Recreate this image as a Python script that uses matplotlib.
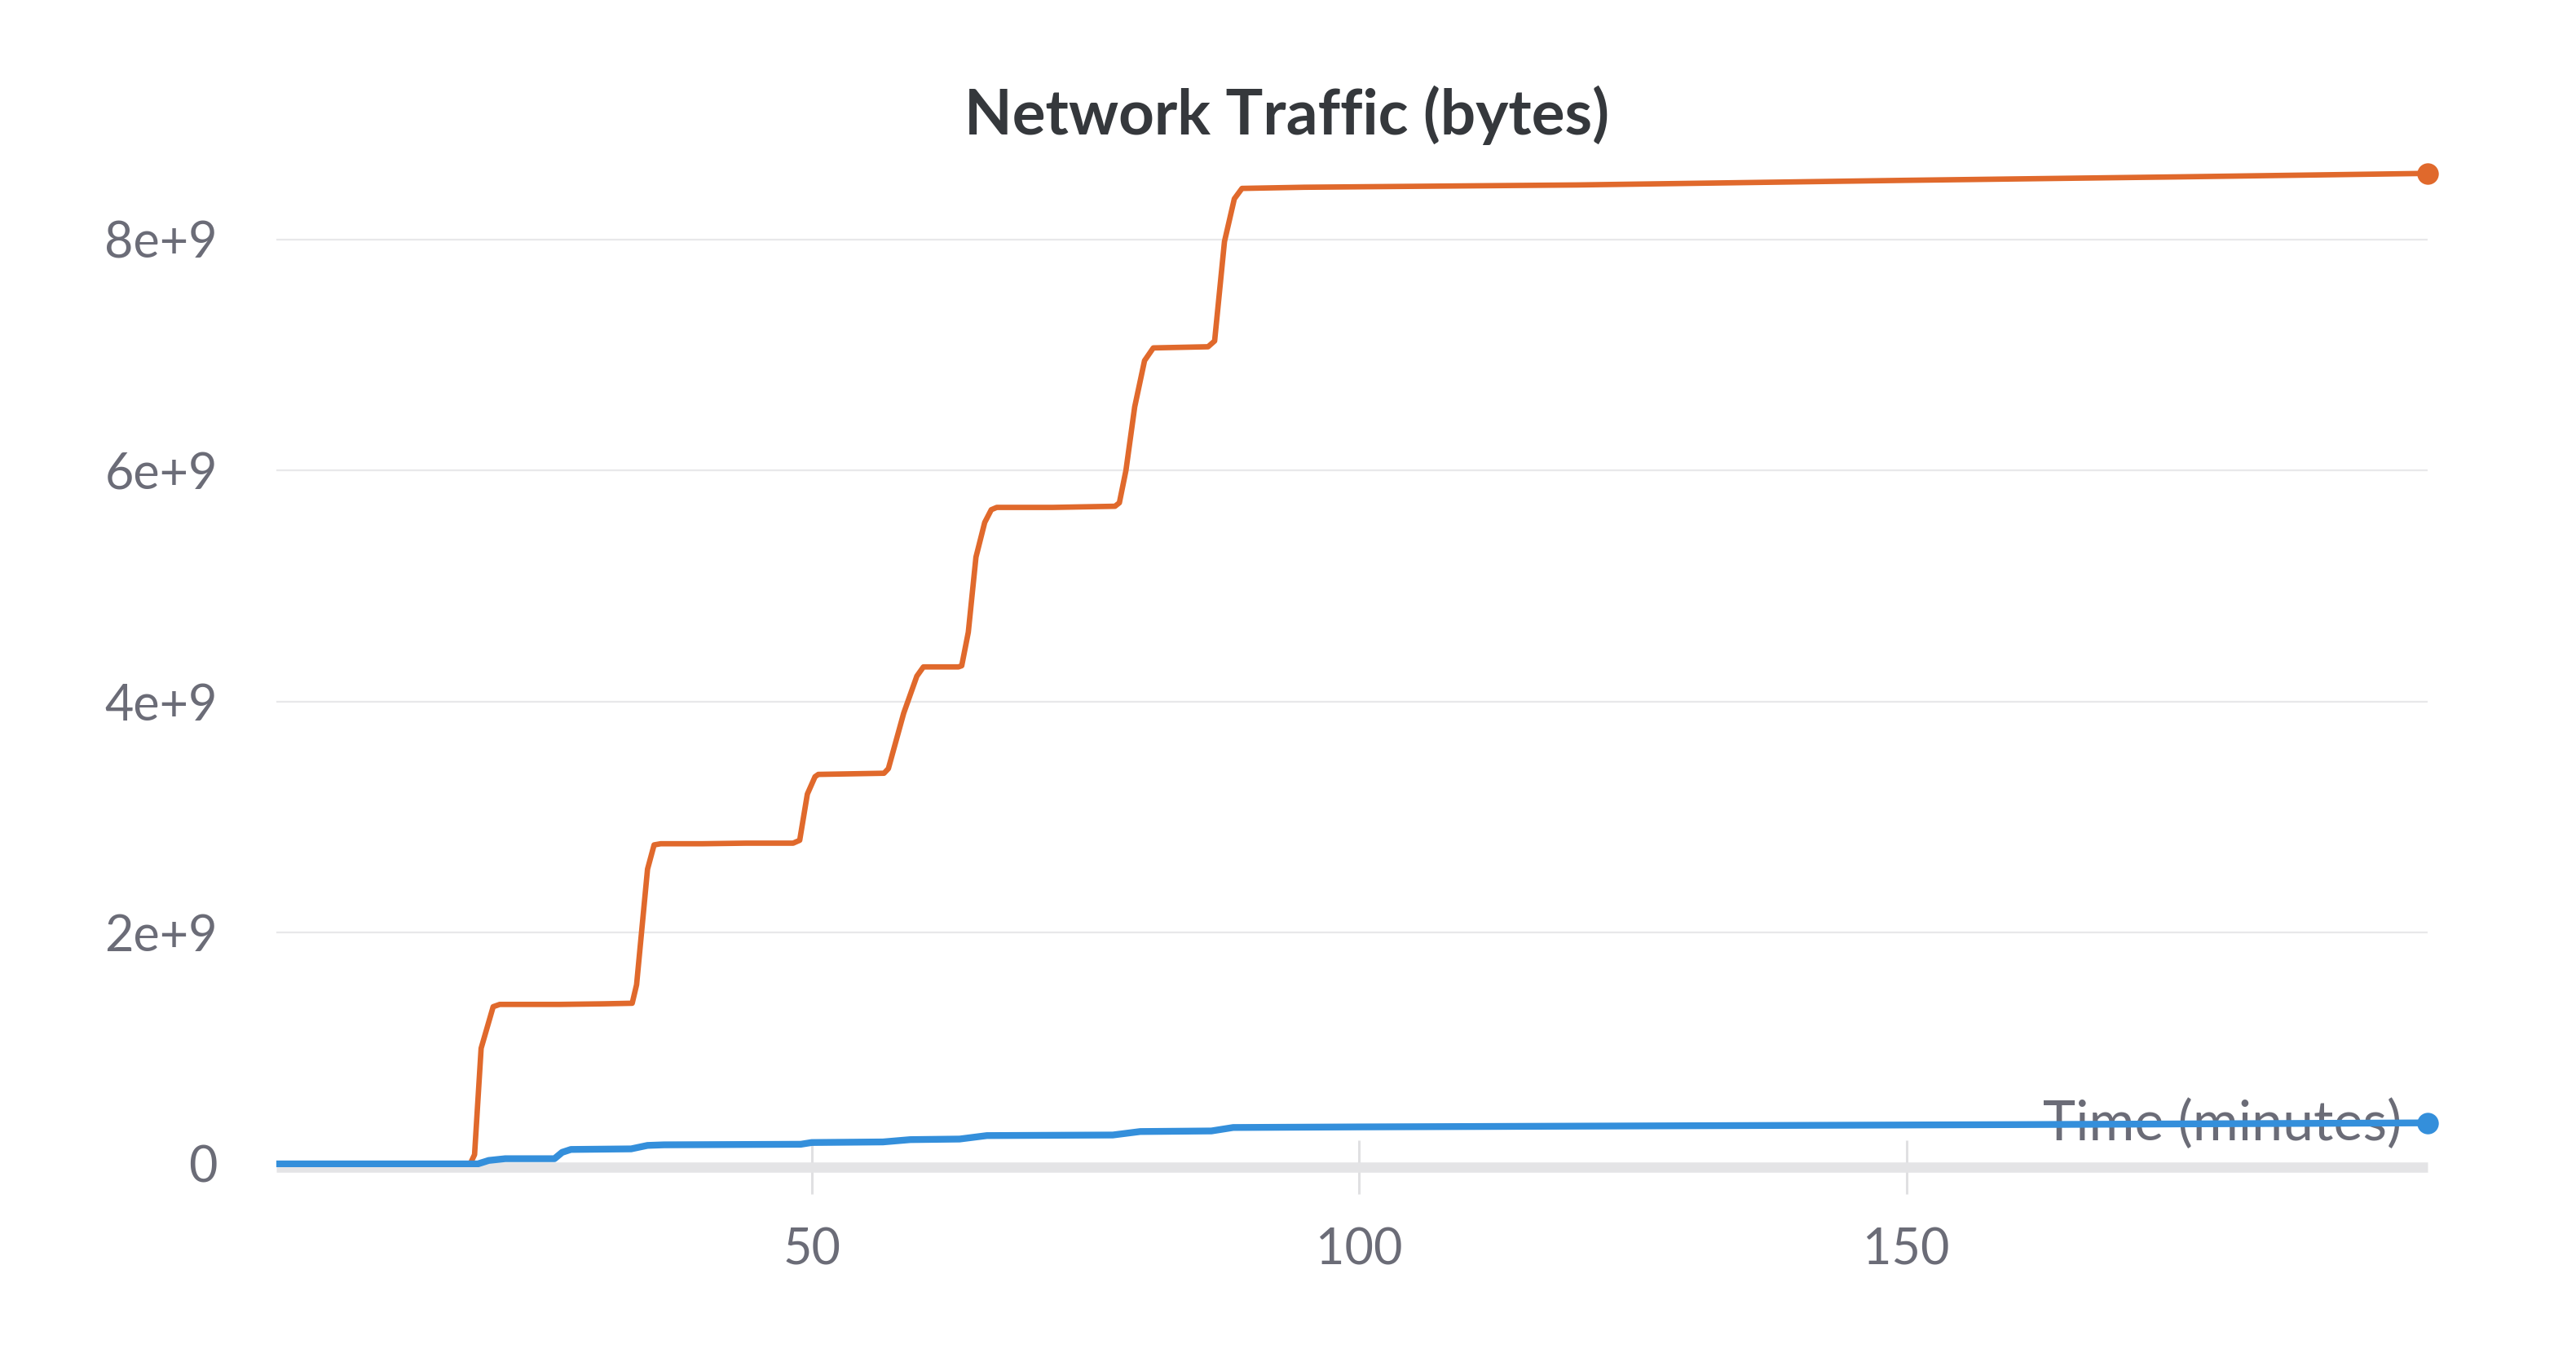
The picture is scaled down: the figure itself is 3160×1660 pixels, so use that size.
import matplotlib
matplotlib.use("Agg")
import matplotlib.pyplot as plt
from matplotlib.ticker import FuncFormatter

plt.rcParams['font.family'] = ['Lato', 'DejaVu Sans']

# minutes / bytes (in units of 1e9)
t_sent = [1.2, 18.8, 19.2, 19.8, 20.9, 21.5, 27, 31, 33.6, 34.0, 35.0, 35.6, 36.2, 40, 44, 48.3,
          48.9, 49.6, 50.3, 50.6, 56.6, 57.0, 58.4, 59.6, 60.2, 63.4, 63.7, 64.3, 65.0, 65.8,
          66.4, 66.9, 72, 77.7, 78.1, 78.7, 79.5, 80.4, 81.2, 86.2, 86.8, 87.7, 88.6, 89.3,
          95, 120, 150, 175, 197.6]
sent = [0, 0, 0.08, 1.0, 1.36, 1.38, 1.38, 1.385, 1.39, 1.55, 2.55, 2.76, 2.77, 2.77, 2.775, 2.775,
        2.8, 3.2, 3.35, 3.37, 3.38, 3.42, 3.9, 4.22, 4.3, 4.3, 4.31, 4.6, 5.25, 5.55,
        5.66, 5.68, 5.68, 5.69, 5.72, 6.0, 6.55, 6.95, 7.06, 7.07, 7.12, 7.98, 8.35, 8.44,
        8.45, 8.47, 8.51, 8.54, 8.57]

t_recv = [1.2, 19.5, 20.5, 22, 26.5, 27.2, 28, 33.5, 35, 36.5, 49, 50, 56.5, 59, 63.5, 66,
          77.5, 80, 86.5, 88.5, 100, 130, 160, 197.6]
recv = [0, 0, 0.03, 0.045, 0.045, 0.1, 0.125, 0.13, 0.16, 0.165, 0.17, 0.185, 0.19, 0.21,
        0.215, 0.245, 0.25, 0.28, 0.285, 0.315, 0.32, 0.33, 0.34, 0.355]

orange = '#e0692c'
blue = '#348fdb'
tick_col = '#6b6c77'

fig = plt.figure(figsize=(15.8, 8.3), dpi=200)
ax = fig.add_axes([0.1073, 0.1372, 0.8351, 0.7543])

ax.plot(t_sent, [v * 1e9 for v in sent], color=orange, lw=2.4, zorder=3)
ax.plot(t_recv, [v * 1e9 for v in recv], color=blue, lw=3.0, zorder=3)
ax.plot(t_sent[-1], sent[-1] * 1e9, 'o', color=orange, ms=8.5, clip_on=False, zorder=4)
ax.plot(t_recv[-1], recv[-1] * 1e9, 'o', color=blue, ms=8.5, clip_on=False, zorder=4)

ax.set_xlim(1.1, 197.6)
ax.set_ylim(-0.03e9, 8.8e9)

ax.set_yticks([0, 2e9, 4e9, 6e9, 8e9])
ax.yaxis.set_major_formatter(FuncFormatter(lambda v, p: '0' if v == 0 else '%de+9' % round(v / 1e9)))
ax.set_xticks([50, 100, 150])

ax.tick_params(axis='y', length=0, pad=26, labelsize=22, labelcolor=tick_col)
ax.tick_params(axis='x', direction='inout', length=24, width=1.1, color='#e0e0e2',
               pad=14.5, labelsize=22, labelcolor=tick_col)

ax.grid(axis='y', color='#e8e8ea', lw=0.8)
ax.set_axisbelow(True)
for s in ['left', 'right', 'top']:
    ax.spines[s].set_visible(False)
ax.spines['bottom'].set_color('#e4e4e6')
ax.spines['bottom'].set_linewidth(4.5)
ax.spines['bottom'].set_capstyle('butt')

ax.set_xlabel('Time (minutes)', fontsize=24.5, color=tick_col, ha='right', va='center')
ax.xaxis.set_label_coords(0.988, 0.042)

fig.text(0.4995, 0.915, 'Network Traffic (bytes)', ha='center', va='center',
         fontsize=27.5, fontweight='bold', color='#35383c')

fig.savefig('out.png', dpi=200, facecolor='white')
